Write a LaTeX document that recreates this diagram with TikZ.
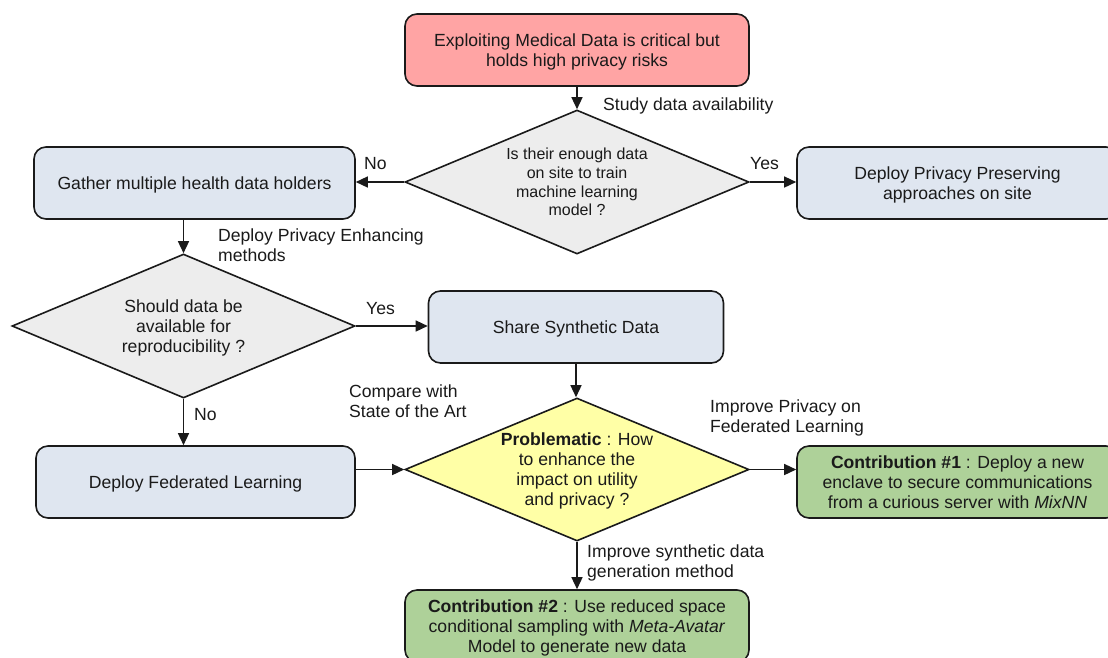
\documentclass[tikz,border=0pt]{standalone}
\usepackage{fontspec}
\setmainfont{Liberation Sans}
\usetikzlibrary{shapes.geometric,arrows.meta}
\definecolor{redfill}{HTML}{FFA4A4}
\definecolor{bluefill}{HTML}{DFE6F0}
\definecolor{grayfill}{HTML}{EDEDED}
\definecolor{yellowfill}{HTML}{FFFFA6}
\definecolor{greenfill}{HTML}{AED199}
\definecolor{ink}{HTML}{1A1A1A}
\tikzset{
  box/.style={draw=ink, line width=1.6pt, rounded corners=12pt, minimum height=72pt,
    align=center, inner sep=2pt, text depth=0pt, font=\fontsize{17.6}{20}\selectfont, text=ink},
  dia/.style={draw=ink, line width=1.6pt, diamond, aspect=2.39, inner sep=0pt, text depth=0pt,
    align=center, font=\fontsize{17.6}{20}\selectfont, text=ink},
  arr/.style={draw=ink, line width=1.4pt, -{Triangle[length=12pt,width=11pt]}},
  lbl/.style={anchor=west, align=left, inner sep=0pt, font=\fontsize{17.6}{20}\selectfont, text=ink},
}
\begin{document}
\begin{tikzpicture}[x=1pt,y=-1pt]
\useasboundingbox (0,0) rectangle (1108,657);
\fill[white] (0,0) rectangle (1108,657);

\node[box, fill=redfill, minimum width=344pt] (top) at (577,50)
  {Exploiting Medical Data is critical but\\holds high privacy risks};
\node[dia, fill=grayfill, minimum width=344pt, minimum height=144pt,
  font=\fontsize{16}{18.7}\selectfont] (d1) at (577,182)
  {Is their enough data\\on site to train\\machine learning\\model ?};
\node[box, fill=bluefill, minimum width=321pt] (gather) at (194.5,183)
  {Gather multiple health data holders};
\node[box, fill=bluefill, minimum width=321pt] (dpp) at (957.5,183)
  {Deploy Privacy Preserving\\approaches on site};
\node[dia, fill=grayfill, minimum width=343pt, minimum height=144pt] (d2) at (183.5,326)
  {Should data be\\available for\\reproducibility ?};
\node[box, fill=bluefill, minimum width=295pt] (share) at (576,327)
  {Share Synthetic Data};
\node[dia, fill=yellowfill, minimum width=344pt, minimum height=143pt] (d3) at (577,469.5)
  {\textbf{Problematic} : How\\to enhance the\\impact on utility\\and privacy ?};
\node[box, fill=bluefill, minimum width=319pt] (fed) at (195.5,482)
  {Deploy Federated Learning};
\node[box, fill=greenfill, minimum width=321pt] (c1) at (957.5,482)
  {\textbf{Contribution \#1} : Deploy a new\\enclave to secure communications\\from a curious server with \textit{MixNN}};
\node[box, fill=greenfill, minimum width=344pt] (c2) at (577,626)
  {\textbf{Contribution \#2} : Use reduced space\\conditional sampling with \textit{Meta-Avatar}\\Model to generate new data};

\draw[arr] (top.south) -- (d1.north);
\draw[arr] (d1.west) -- (d1.west -| gather.east);
\draw[arr] (d1.east) -- (d1.east -| dpp.west);
\draw[arr] (gather.south -| d2.north) -- (d2.north);
\draw[arr] (d2.east) -- (d2.east -| share.west);
\draw[arr] (d2.south) -- (d2.south |- fed.north);
\draw[arr] (share.south) -- (share.south |- d3.north);
\draw[arr] (fed.east |- d3.west) -- (d3.west);
\draw[arr] (d3.east) -- (d3.east -| c1.west);
\draw[arr] (d3.south) -- (d3.south |- c2.north);

\node[lbl] (l1) at (603,105.5) {Study data availability};
\node[lbl] (l2) at (364,163.5) {No};
\node[lbl] (l3) at (750,163.5) {Yes};
\node[lbl] (l4) at (218,245.5) {Deploy Privacy Enhancing\\methods};
\node[lbl] (l5) at (366,308.5) {Yes};
\node[lbl] (l6) at (194,414.5) {No};
\node[lbl] (l7) at (349,401.5) {Compare with\\State of the Art};
\node[lbl] (l8) at (710,418) {Improve Privacy on\\Federated Learning};
\node[lbl] (l9) at (587,562.5) {Improve synthetic data\\generation method};
\end{tikzpicture}
\end{document}
